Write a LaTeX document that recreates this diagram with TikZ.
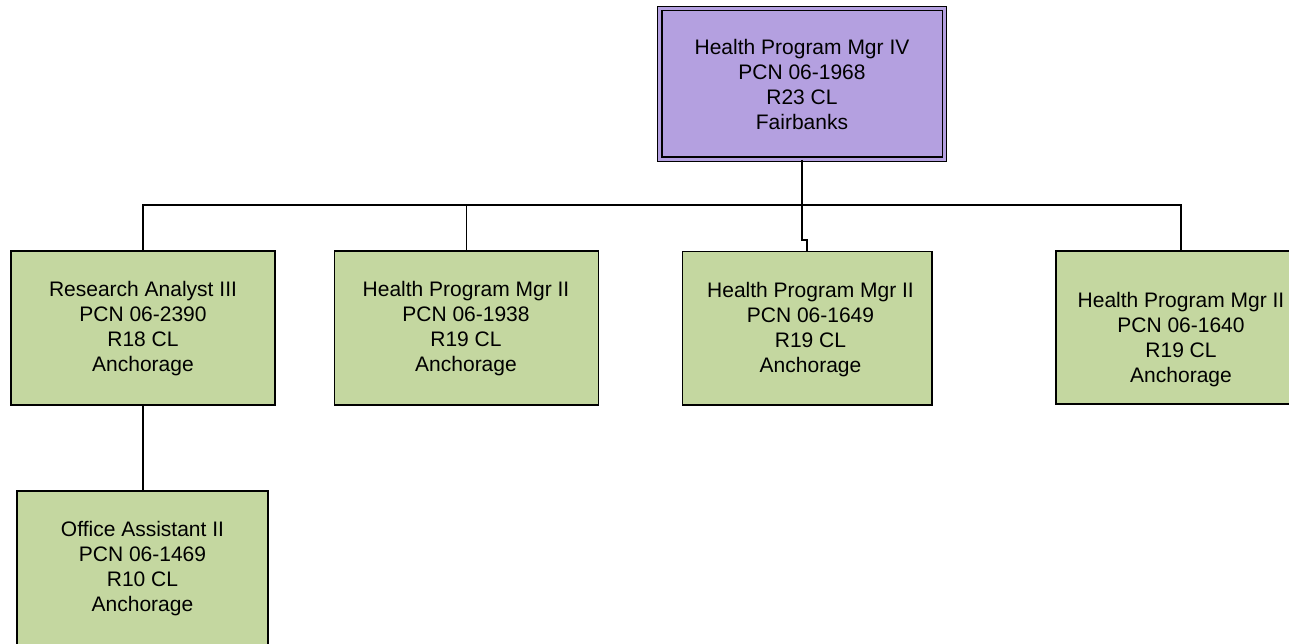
\documentclass[tikz,border=0pt]{standalone}
\usepackage{fontspec}
\setmainfont{Liberation Sans}
\definecolor{boxgreen}{RGB}{196,215,160}
\definecolor{boxpurple}{RGB}{180,160,224}
\begin{document}
\begin{tikzpicture}[x=1pt,y=-1pt,
  gbox/.style={draw=black, line width=1.6pt, fill=boxgreen, rectangle, inner sep=0pt},
  pbox/.style={draw=black, line width=1.3pt, double=boxpurple, double distance=3pt, fill=boxpurple, rectangle, inner sep=0pt,
    minimum width=284.6, minimum height=150.6},
  txt/.style={align=center, inner sep=0pt, font=\fontsize{21}{25}\selectfont},
  conn/.style={draw=black, line width=1.5pt},
  trunk/.style={draw=black, line width=2.3pt}]
\useasboundingbox (0,0) rectangle (1289,644);
\fill[white] (0,0) rectangle (1289,644);
\clip (0,0) rectangle (1289,644);

% top box
\node[pbox] (top) at (802,84) {};
\node[txt] (ttop) at (802,84) {Health Program Mgr IV\\PCN 06-1968\\R23 CL\\Fairbanks};

% child boxes
\node[gbox, minimum width=264, minimum height=154] (b1) at (143,328) {};
\node[txt] (t1) at (143,329) {Research Analyst III\\PCN 06-2390\\R18 CL\\Anchorage};

\node[gbox, minimum width=264, minimum height=154] (b2) at (466.5,328) {};
\node[txt] (t2) at (466,329) {Health Program Mgr II\\PCN 06-1938\\R19 CL\\Anchorage};

\node[gbox, minimum width=249.4, minimum height=153.5] (b3) at (807,328.3) {};
\node[txt] (t3) at (810.5,329.3) {Health Program Mgr II\\PCN 06-1649\\R19 CL\\Anchorage};

\node[gbox, minimum width=250, minimum height=153] (b4) at (1181,327.5) {};
\node[txt] (t4) at (1181,339.5) {Health Program Mgr II\\PCN 06-1640\\R19 CL\\Anchorage};

\node[gbox, minimum width=251, minimum height=154] (b5) at (142.5,568) {};
\node[txt] (t5) at (142.5,569) {Office Assistant II\\PCN 06-1469\\R10 CL\\Anchorage};

% connectors
\coordinate (bus) at (802,205);
\coordinate (j3) at (802,240);
\draw[conn] (bus) -| (b1.north);
\draw[conn] (bus) -| (b2.north);
\draw[conn] (bus) -| (b4.north);
\draw[conn] (bus) -- (j3) -| (b3.north);
\draw[trunk] (bus) -- (bus -| b2.north);
\draw[trunk] (top.south) -- (bus);
\draw[conn] (b1.south) -- (b1.south |- b5.north);
\end{tikzpicture}
\end{document}
